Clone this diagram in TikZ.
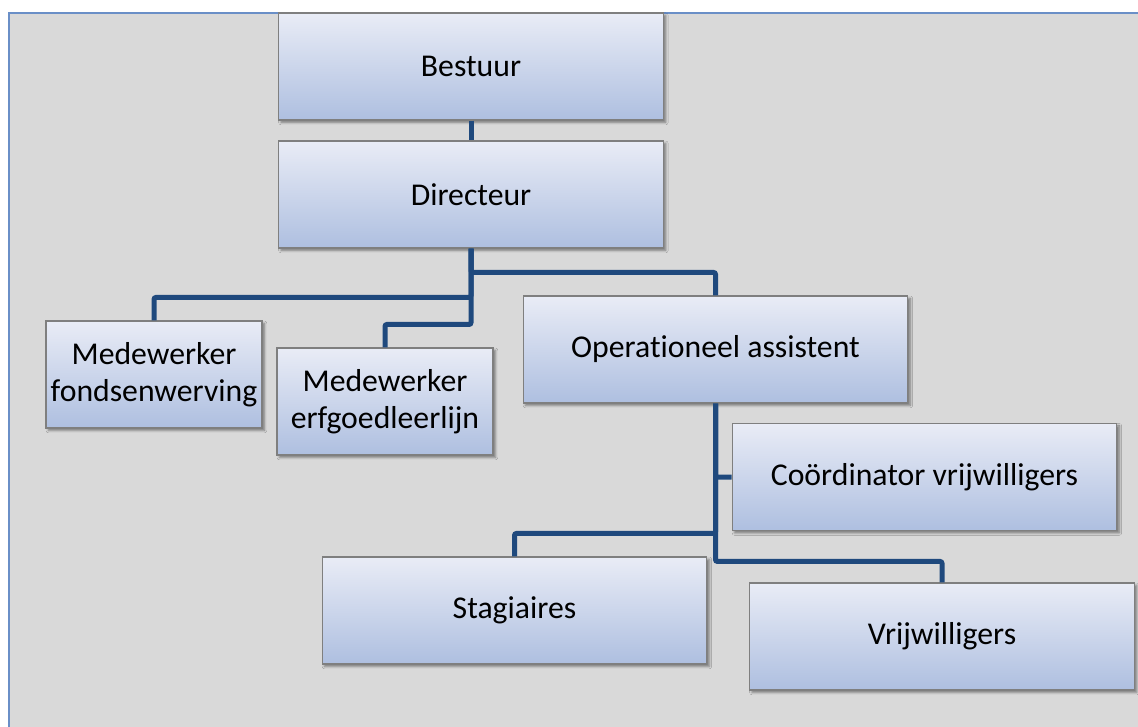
\documentclass[tikz,border=0pt]{standalone}
\usepackage{fontspec}
\setmainfont{Carlito}[Ligatures=NoCommon]
\usepackage{xcolor}
\usepackage{tikz}
\usetikzlibrary{positioning}
\usetikzlibrary{calc}
\usetikzlibrary{shadows.blur}
\definecolor{framegray}{HTML}{D9D9D9}
\definecolor{frameblue}{HTML}{6A8FC7}
\definecolor{linkblue}{HTML}{1F497D}
\definecolor{boxtop}{HTML}{E9ECF6}
\definecolor{boxbottom}{HTML}{AEBFE0}
\definecolor{boxline}{HTML}{7F7F7F}
\tikzset {
  x=0.75pt, y=-0.75pt,
  % box of the chart
  main/.style = {draw=boxline, line width=0.8pt, rectangle, top color=boxtop, bottom color=boxbottom,
    minimum width=288.5pt, minimum height=80.25pt, inner sep=0pt, align=center,
    font=\fontsize{23.8}{28}\selectfont,
    blur shadow={shadow xshift=1.8pt, shadow yshift=-1.8pt, shadow blur radius=1.8pt, shadow opacity=45}},
  % the two narrow boxes
  narrow/.style = {minimum width=162pt},
  % lines between the boxes
  link/.style = {linkblue, line width=3.75pt, rounded corners=1.5pt},
}
\begin{document}
\begin{tikzpicture}
      \useasboundingbox (0,0) rectangle (1138,727);
      \fill[white] (0,0) rectangle (1138,727);
      \filldraw[fill=framegray, draw=frameblue, line width=1.5pt] (9,13) rectangle (1160,750);

      \node[main] (best) at (471, 66.5) {Bestuur};
      \node[main] (dir) at (471, 194.5) {Directeur};

      \node[main, narrow] (fonds) at (154, 374.5) {Medewerker\\fondsenwerving};
      \node[main, narrow] (erfg) at (385, 401.5) {Medewerker\\erfgoedleerlijn};
      \node[main] (op) at (715.5, 349.5) {Operationeel assistent};

      \node[main] (coord) at (924.5, 477) {Coördinator vrijwilligers};
      \node[main] (stag) at (514.5, 610.5) {Stagiaires};
      \node[main] (vrij) at (942, 636.5) {Vrijwilligers};

      \draw[link] (best) -- (dir);

      \draw[link] (dir.south) |- ($(op.north)+(0,-23)$) -- (op.north);
      \draw[link] (dir.south) |- ($(fonds.north)+(0,-23)$) -- (fonds.north);
      \draw[link] (dir.south) |- ($(erfg.north)+(0,-23)$) -- (erfg.north);

      \draw[link] (op.south) |- (coord.west);
      \draw[link] (op.south) |- ($(stag.north)+(0,-23)$) -- (stag.north);
      \draw[link] (op.south) |- ($(vrij.north)+(0,-21)$) -- (vrij.north);
    \end{tikzpicture}
\end{document}
